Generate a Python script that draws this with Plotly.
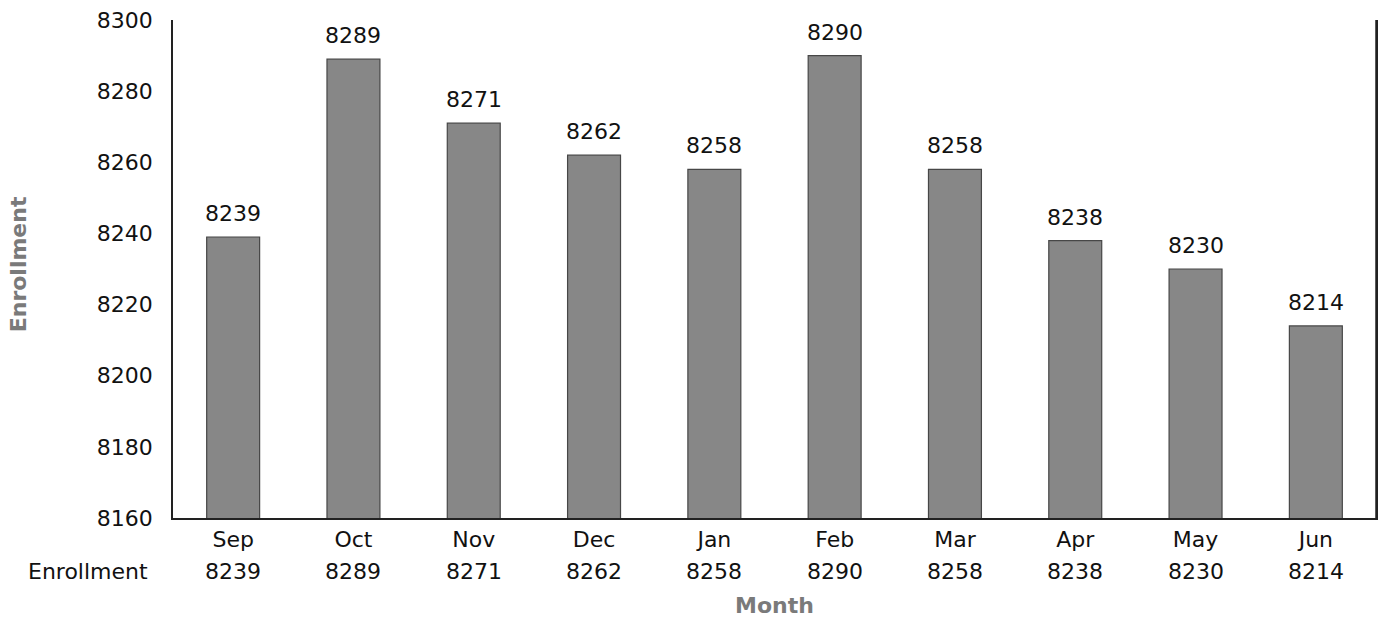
import plotly.graph_objects as go

months = ["Sep", "Oct", "Nov", "Dec", "Jan", "Feb", "Mar", "Apr", "May", "Jun"]
enrollment = [8239, 8289, 8271, 8262, 8258, 8290, 8258, 8238, 8230, 8214]
y_ticks = [8160, 8180, 8200, 8220, 8240, 8260, 8280, 8300]
row_label = "Enrollment"

FONT = "DejaVu Sans"
FS = 22

fig = go.Figure()
fig.add_trace(go.Bar(
    x=months, y=enrollment,
    width=0.44,
    marker=dict(color="#878787", line=dict(color="#474747", width=1.2)),
    cliponaxis=False,
    hoverinfo="skip",
))

# value labels above bars
for m, v in zip(months, enrollment):
    fig.add_annotation(x=m, y=v, xref="x", yref="y", text=str(v),
                       showarrow=False, font=dict(family=FONT, size=FS, color="#111111"),
                       yanchor="bottom", xanchor="center", yshift=9)

# data table row below axis
for m, v in zip(months, enrollment):
    fig.add_annotation(x=m, y=-0.108, xref="x", yref="paper", text=str(v),
                       showarrow=False, font=dict(family=FONT, size=FS, color="#111111"),
                       yanchor="middle", xanchor="center")
fig.add_annotation(x=-0.0705, y=-0.108, xref="paper", yref="paper", text=row_label,
                   showarrow=False, font=dict(family=FONT, size=FS, color="#111111"),
                   yanchor="middle", xanchor="center")
fig.add_annotation(x=0.5, y=-0.175, xref="paper", yref="paper", text="<b>Month</b>",
                   showarrow=False, font=dict(family=FONT, size=FS, color="#7a7a7a"),
                   yanchor="middle", xanchor="center")
fig.add_annotation(x=-0.1286, y=0.51, xref="paper", yref="paper", text="<b>Enrollment</b>",
                   showarrow=False, textangle=-90, font=dict(family=FONT, size=FS, color="#7a7a7a"),
                   yanchor="middle", xanchor="center")

# right frame line
fig.add_shape(type="line", xref="paper", yref="paper", x0=1, x1=1, y0=0, y1=1,
              line=dict(color="#222222", width=1.5))

fig.update_layout(
    width=1382, height=627,
    margin=dict(l=173, r=4, t=20, b=109),
    plot_bgcolor="white", paper_bgcolor="white",
    showlegend=False,
    font=dict(family=FONT, size=FS, color="#111111"),
)
fig.update_xaxes(
    type="category",
    showline=True, linecolor="#222222", linewidth=1.5,
    showgrid=False, ticks="", tickfont=dict(family=FONT, size=FS, color="#111111"),
    ticklabelstandoff=1,
)
fig.update_yaxes(
    range=[8160, 8300],
    tickvals=y_ticks,
    ticktext=[str(t) for t in y_ticks],
    showline=True, linecolor="#222222", linewidth=1.5, mirror=True,
    showgrid=False, ticks="", zeroline=False,
    tickfont=dict(family=FONT, size=FS, color="#111111"),
    ticklabelstandoff=14,
)

fig.write_html("out.html", config={"displayModeBar": False},
               post_script="document.body.style.margin='0';document.body.style.overflow='hidden';")
